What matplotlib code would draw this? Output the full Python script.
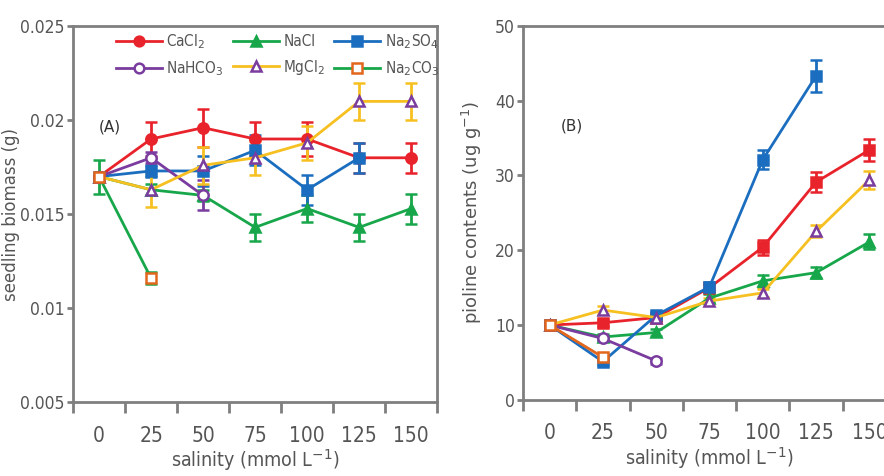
import numpy as np
import matplotlib
matplotlib.use("Agg")
import matplotlib.pyplot as plt
from matplotlib.lines import Line2D
from matplotlib import font_manager

# salinity levels (mmol/L)
salinity = ['0', '25', '50', '75', '100', '125', '150']

# (A) seedling biomass (g)
bio_cacl2 = [0.017, 0.0190, 0.0196, 0.0190, 0.0190, 0.0180, 0.0180]
bio_cacl2_err = [0.0, 0.0009, 0.0010, 0.0009, 0.0009, 0.0008, 0.0008]
bio_nacl = [0.017, 0.0163, 0.0160, 0.0143, 0.0153, 0.0143, 0.0153]
bio_nacl_err = [0.0009, 0.0003, 0.0003, 0.0007, 0.0007, 0.0007, 0.0008]
bio_na2so4 = [0.017, 0.0173, 0.0173, 0.0184, 0.0163, 0.0180]
bio_na2so4_err = [0.0, 0.0003, 0.0008, 0.0008, 0.0008, 0.0008]
bio_nahco3 = [0.017, 0.0180, 0.0160]
bio_nahco3_err = [0.0, 0.0003, 0.0008]
bio_mgcl2 = [0.017, 0.0163, 0.0176, 0.0180, 0.0188, 0.0210, 0.0210]
bio_mgcl2_err = [0.0, 0.0009, 0.0010, 0.0009, 0.0009, 0.0010, 0.0010]
bio_na2co3 = [0.017, 0.0116]
bio_na2co3_err = [0.0, 0.0003]

# (B) proline contents (ug/g)
pro_cacl2 = [10.0, 10.3, 11.0, 15.0, 20.4, 29.1, 33.4]
pro_cacl2_err = [0.3, 0.4, 0.4, 0.5, 1.0, 1.3, 1.5]
pro_nacl = [10.0, 8.4, 9.0, 13.6, 15.9, 17.0, 21.1]
pro_nacl_err = [0.3, 0.4, 0.5, 0.5, 0.8, 0.7, 1.0]
pro_na2so4 = [10.0, 5.1, 11.3, 15.1, 32.1, 43.3]
pro_na2so4_err = [0.3, 0.4, 0.5, 0.6, 1.3, 2.1]
pro_nahco3 = [10.0, 8.2, 5.2]
pro_nahco3_err = [0.3, 0.4, 0.4]
pro_mgcl2 = [10.0, 12.0, 11.0, 13.2, 14.3, 22.5, 29.4]
pro_mgcl2_err = [0.3, 0.5, 0.4, 0.4, 0.5, 0.8, 1.2]
pro_na2co3 = [10.0, 5.7]
pro_na2co3_err = [0.3, 0.4]

RED = '#e8232b'
GREEN = '#17a74a'
BLUE = '#1b6ebf'
PURPLE = '#7a3c9e'
YELLOW = '#f6c020'
ORANGE = '#e2661c'
GRAY = '#7f7f7f'
TEXT = '#555555'

# narrow font for ticks, if one is around
names = {f.name for f in font_manager.fontManager.ttflist}
NARROW = 'Liberation Sans Narrow' if 'Liberation Sans Narrow' in names else 'DejaVu Sans'
NARROW_PROPS = dict(family=NARROW, stretch='condensed')


def draw_series(ax, y, err, line_color, marker, face, edge, label):
    x = np.arange(len(y))
    ax.errorbar(x, y, yerr=err, color=line_color, lw=2, marker=marker,
                ms=7.5, mfc=face, mec=edge, mew=1.8,
                ecolor=line_color, elinewidth=2, capsize=4,
                capthick=2, label=label)


def style_axes(ax, ylim, yticks, yticklabels):
    ax.set_xlim(-0.5, 6.5)
    ax.set_ylim(*ylim)
    ax.set_xticks(np.arange(-0.5, 7, 1))
    ax.set_xticklabels([])
    ax.set_xticks(np.arange(7), minor=True)
    ax.set_xticklabels(salinity, minor=True, fontsize=15, color=TEXT, **NARROW_PROPS)
    ax.tick_params(axis='x', which='major', direction='out', length=8, width=2, color=GRAY)
    ax.tick_params(axis='x', which='minor', length=0, pad=17)
    ax.set_yticks(yticks)
    ax.set_yticklabels(yticklabels, fontsize=12.5, color=TEXT, **NARROW_PROPS)
    ax.tick_params(axis='y', direction='out', length=4, width=2, color=GRAY, pad=2)
    for s in ax.spines.values():
        s.set_color(GRAY)
        s.set_linewidth(2)
    ax.set_xlabel('salinity (mmol L$^{-1}$)', fontsize=14,
                  color=TEXT, labelpad=1, **NARROW_PROPS)


fig = plt.figure(figsize=(8.84, 4.76), dpi=100)
axA = fig.add_axes([0.0826, 0.155, 0.412, 0.790])
axB = fig.add_axes([0.5916, 0.160, 0.422, 0.786])

# panel A
draw_series(axA, bio_cacl2, bio_cacl2_err, RED, 'o', RED, RED, 'CaCl$_2$')
draw_series(axA, bio_nacl, bio_nacl_err, GREEN, '^', GREEN, GREEN, 'NaCl')
draw_series(axA, bio_na2so4, bio_na2so4_err, BLUE, 's', BLUE, BLUE, 'Na$_2$SO$_4$')
draw_series(axA, bio_nahco3, bio_nahco3_err, PURPLE, 'o', 'white', PURPLE, 'NaHCO$_3$')
draw_series(axA, bio_mgcl2, bio_mgcl2_err, YELLOW, '^', 'white', PURPLE, 'MgCl$_2$')
draw_series(axA, bio_na2co3, bio_na2co3_err, GREEN, 's', 'white', ORANGE, 'Na$_2$CO$_3$')
style_axes(axA, (0.005, 0.025), [0.005, 0.01, 0.015, 0.02, 0.025],
           ['0.005', '0.01', '0.015', '0.02', '0.025'])
axA.set_ylabel('seedling biomass (g)', fontsize=12, color=TEXT)
axA.yaxis.set_label_coords(-0.145, 0.5)
axA.text(0.07, 0.72, '(A)', transform=axA.transAxes, fontsize=11, color='#333333')

# legend without error bars, filled row by row
legend_rows = [
    ('CaCl$_2$', RED, 'o', RED, RED),
    ('NaCl', GREEN, '^', GREEN, GREEN),
    ('Na$_2$SO$_4$', BLUE, 's', BLUE, BLUE),
    ('NaHCO$_3$', PURPLE, 'o', 'white', PURPLE),
    ('MgCl$_2$', YELLOW, '^', 'white', PURPLE),
    ('Na$_2$CO$_3$', GREEN, 's', 'white', ORANGE),
]
proxies = [Line2D([], [], color=c, lw=2, marker=m, ms=7, mfc=f, mec=e, mew=1.8)
           for _, c, m, f, e in legend_rows]
labels = [r[0] for r in legend_rows]
order = [0, 3, 1, 4, 2, 5]
axA.legend([proxies[i] for i in order], [labels[i] for i in order],
           loc='upper left', bbox_to_anchor=(0.08, 1.02), ncol=3, frameon=False,
           prop=dict(size=11, **NARROW_PROPS), handlelength=3.0,
           handletextpad=0.3, columnspacing=0.6, labelspacing=0.55,
           labelcolor=TEXT)

# panel B
draw_series(axB, pro_cacl2, pro_cacl2_err, RED, 's', RED, RED, 'CaCl$_2$')
draw_series(axB, pro_nacl, pro_nacl_err, GREEN, '^', GREEN, GREEN, 'NaCl')
draw_series(axB, pro_na2so4, pro_na2so4_err, BLUE, 's', BLUE, BLUE, 'Na$_2$SO$_4$')
draw_series(axB, pro_nahco3, pro_nahco3_err, PURPLE, 'o', 'white', PURPLE, 'NaHCO$_3$')
draw_series(axB, pro_mgcl2, pro_mgcl2_err, YELLOW, '^', 'white', PURPLE, 'MgCl$_2$')
draw_series(axB, pro_na2co3, pro_na2co3_err, ORANGE, 's', 'white', ORANGE, 'Na$_2$CO$_3$')
style_axes(axB, (0, 50), [0, 10, 20, 30, 40, 50],
           ['0', '10', '20', '30', '40', '50'])
axB.set_ylabel('pioline contents (ug g$^{-1}$)', fontsize=13, color=TEXT, labelpad=8)
axB.text(0.1, 0.72, '(B)', transform=axB.transAxes, fontsize=11, color='#333333')

fig.savefig('out.png', dpi=100)
